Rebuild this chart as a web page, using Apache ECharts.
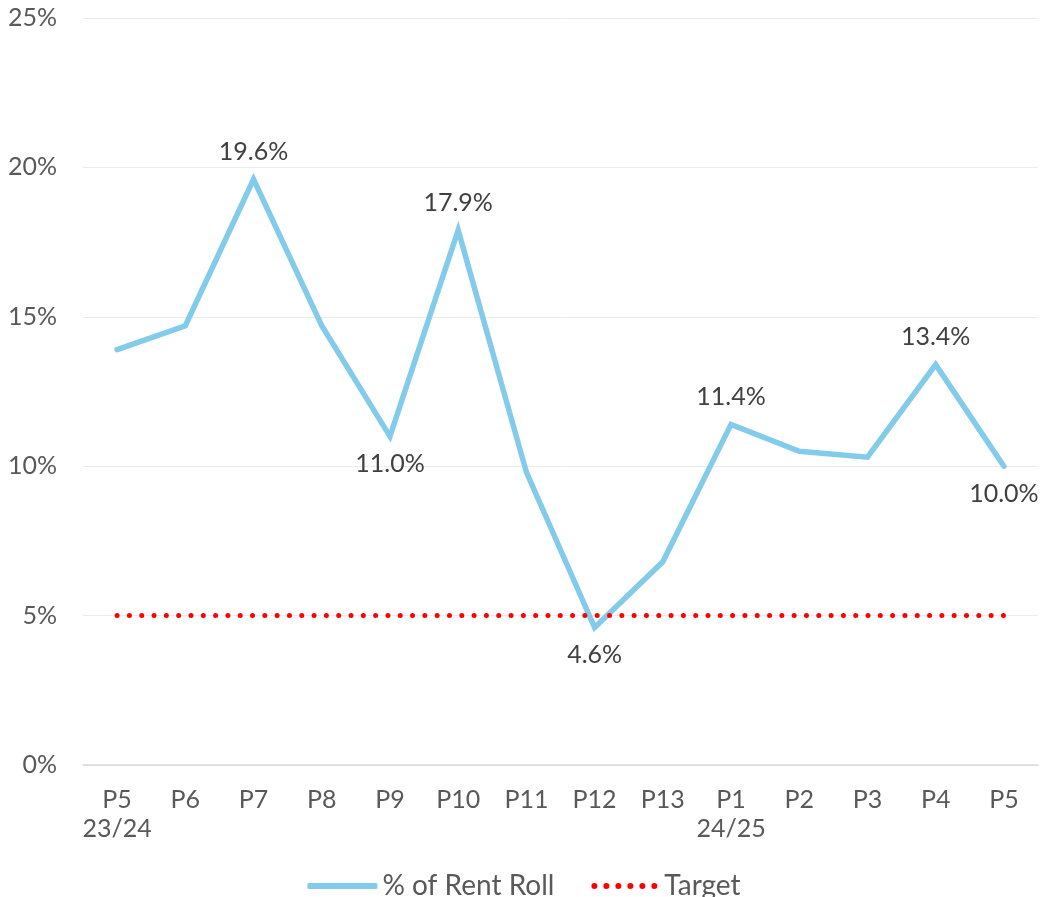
<!DOCTYPE html>
<html>
<head>
<meta charset="utf-8">
<script src="https://cdn.jsdelivr.net/npm/echarts@6/dist/echarts.min.js"></script>
<style>
    html, body { margin: 0; padding: 0; background: #fff; }
    #chart { width: 1048px; height: 897px; }
</style>
</head>
<body>
<div id="chart"></div>
<script>
    var categories = ['P5\n23/24', 'P6', 'P7', 'P8', 'P9', 'P10', 'P11', 'P12', 'P13', 'P1\n24/25', 'P2', 'P3', 'P4', 'P5'];
    var rentRoll = [13.9, 14.7, 19.6, 14.7, 11.0, 17.9, 9.8, 4.6, 6.8, 11.4, 10.5, 10.3, 13.4, 10.0];
    var target = [5, 5, 5, 5, 5, 5, 5, 5, 5, 5, 5, 5, 5, 5];

    // which points carry a data label, and where
    var labelAt = {2: 'top', 4: 'bottom', 5: 'top', 7: 'bottom', 9: 'top', 12: 'top', 13: 'bottom'};

    var fontFamily = 'Lato, "DejaVu Sans", sans-serif';
    var textColor = '#595959';
    var lineColor = '#82cbea';

    // six dots for the Target legend icon
    var dotsIcon = 'path://' + [0, 1, 2, 3, 4, 5].map(function (k) {
        var cx = 3 + k * 12;
        return 'M' + (cx - 3) + ' 3a3 3 0 1 0 6 0a3 3 0 1 0 -6 0Z';
    }).join('');

    var chart = echarts.init(document.getElementById('chart'));

    var opt = {
        animation: false,
        grid: { left: 83, right: 10, top: 18, bottom: 132 },
        legend: {
            top: 867,
            itemWidth: 70,
            itemHeight: 6,
            itemGap: 37,
            textStyle: { fontFamily: fontFamily, fontSize: 28, color: textColor },
            data: [
                { name: '% of Rent Roll', icon: 'roundRect', itemStyle: { color: lineColor, opacity: 1 } },
                { name: 'Target', icon: dotsIcon, itemStyle: { color: '#ff0000', opacity: 1 } }
            ]
        },
        xAxis: {
            type: 'category',
            data: categories,
            axisLine: { lineStyle: { color: '#d9d9d9', width: 1.5 } },
            axisTick: { show: false },
            axisLabel: {
                fontFamily: fontFamily, fontSize: 25, color: textColor,
                lineHeight: 29, margin: 20, interval: 0
            }
        },
        yAxis: {
            type: 'value',
            min: 0,
            max: 25,
            interval: 5,
            axisLine: { show: false },
            axisTick: { show: false },
            splitLine: { lineStyle: { color: '#ececec', width: 1 } },
            axisLabel: {
                fontFamily: fontFamily, fontSize: 25, color: textColor, margin: 26,
                formatter: '{value}%'
            }
        },
        series: [
            {
                name: 'Target',
                type: 'line',
                data: target,
                symbol: 'none',
                z: 3,
                lineStyle: { color: '#ff0000', width: 5, type: [0.01, 12.3], cap: 'round' },
                itemStyle: { color: '#ff0000' }
            },
            {
                name: '% of Rent Roll',
                type: 'line',
                z: 2,
                data: rentRoll.map(function (v, i) {
                    var pos = labelAt[i];
                    return {
                        value: v,
                        label: { show: !!pos, position: pos || 'top' }
                    };
                }),
                symbol: 'circle',
                symbolSize: 2,
                showSymbol: true,
                lineStyle: { color: lineColor, width: 5.5, cap: 'round', join: 'miter' },
                itemStyle: { color: 'rgba(0,0,0,0)', borderWidth: 0 },
                label: {
                    fontFamily: fontFamily, fontSize: 25, color: '#404040', distance: 14,
                    formatter: function (p) { return p.value.toFixed(1) + '%'; }
                }
            }
        ]
    };

    chart.setOption(opt, true);
</script>
</body>
</html>
